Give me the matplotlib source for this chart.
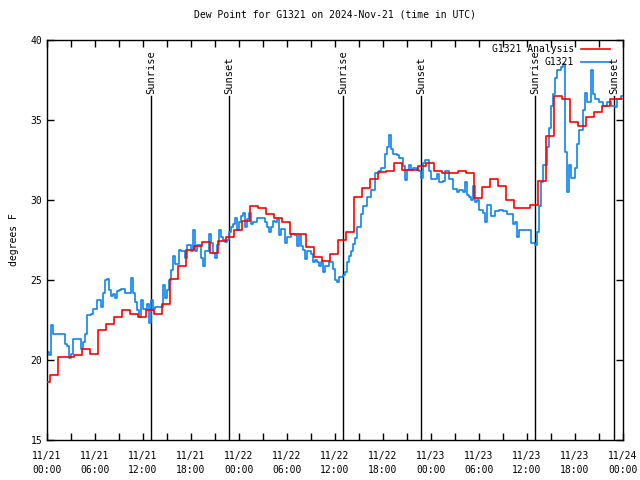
import numpy as np
import matplotlib
matplotlib.use('Agg')
import matplotlib.pyplot as plt

# 데이터 (hours since 2024-11-21 00:00 UTC)
# analysis: hourly values, each valid from about hh-0:36 to hh+0:24
analysis_dew = [18.6, 19.06, 20.2, 20.2, 20.3, 20.67, 20.4, 21.9, 22.25, 22.7,
                23.1, 22.85, 22.67, 23.1, 22.9, 23.5, 25.04, 25.9, 26.9, 27.1,
                27.4, 26.7, 27.45, 27.7, 28.1, 28.7, 29.6, 29.5, 29.1, 28.9,
                28.6, 27.9, 27.9, 27.04, 26.45, 26.2, 26.6, 27.5, 27.98, 30.19,
                30.77, 31.3, 31.77, 31.83, 32.29, 31.9, 31.9, 32.1, 32.33, 31.8,
                31.7, 31.7, 31.8, 31.67, 30.1, 30.83, 31.3, 30.9, 30.0, 29.48,
                29.48, 29.7, 31.19, 34.0, 36.5, 36.3, 34.9, 34.6, 35.2, 35.5,
                35.9, 36.3, 36.3]

# station obs, every 15 minutes
station_dew = [
    20.5, 20.3, 22.2, 21.6,  21.6, 21.6, 21.6, 21.6,  21.6, 21.0, 20.9, 20.1,
    20.4, 21.3, 21.3, 21.3,  21.3, 20.7, 21.1, 21.6,  22.8, 22.8, 22.9, 23.2,
    23.2, 23.75, 23.75, 23.3,  24.2, 25.0, 25.06, 24.4,  24.0, 24.1, 23.9, 24.3,
    24.4, 24.45, 24.45, 24.2,  24.2, 24.2, 25.1, 24.2,  23.6, 23.1, 22.7, 23.75,
    23.2, 23.2, 23.5, 22.3,  23.75, 23.2, 23.3, 23.3,  23.3, 23.3, 24.7, 23.9,
    24.4, 25.0, 25.6, 26.5,  26.0, 26.0, 26.9, 26.8,  26.8, 26.4, 27.2, 27.2,
    26.8, 28.1, 26.8, 27.2,  27.2, 26.4, 25.9, 26.8,  26.8, 27.9, 27.3, 26.7,
    26.4, 27.2, 28.1, 27.7,  27.5, 27.4, 27.5, 28.0,  28.3, 28.5, 28.9, 28.1,
    28.6, 29.0, 29.2, 28.3,  28.8, 29.2, 28.5, 28.6,  28.6, 28.9, 28.9, 28.9,
    28.9, 28.6, 28.3, 28.0,  28.3, 28.7, 28.6, 28.8,  27.8, 28.2, 28.2, 27.3,
    27.7, 27.7, 27.9, 27.9,  27.8, 27.1, 27.8, 27.1,  26.9, 26.3, 26.8, 26.8,
    26.6, 26.15, 26.25, 26.15,  25.9, 26.15, 25.5, 25.9,  25.9, 26.15, 26.15, 25.7,
    25.0, 24.9, 25.2, 25.2,  25.3, 25.5, 26.1, 26.5,  26.8, 27.25, 27.6, 28.3,
    28.3, 29.1, 29.6, 29.6,  30.2, 30.2, 30.6, 30.6,  31.7, 31.7, 31.8, 32.0,
    32.0, 32.9, 33.3, 34.06,  33.2, 32.9, 32.9, 32.8,  32.6, 32.6, 32.1, 31.25,
    31.9, 32.2, 31.9, 32.0,  32.0, 31.9, 31.8, 31.4,  32.3, 32.5, 32.5, 31.8,
    31.3, 31.3, 31.3, 31.6,  31.1, 31.1, 31.2, 31.8,  31.8, 31.3, 31.3, 30.7,
    30.7, 30.5, 30.6, 30.6,  30.5, 31.1, 30.3, 30.2,  30.0, 30.9, 29.9, 30.0,
    29.4, 29.4, 29.2, 28.6,  29.7, 29.7, 29.0, 29.0,  29.3, 29.3, 29.4, 29.4,
    29.3, 29.3, 29.15, 29.15,  29.15, 28.5, 28.6, 27.7,  28.1, 28.1, 28.1, 28.1,
    28.1, 28.1, 27.3, 27.3,  27.2, 28.0, 29.6, 31.1,  32.2, 32.2, 33.3, 34.5,
    35.9, 36.6, 37.6, 38.1,  38.1, 38.3, 38.5, 33.0,  30.5, 32.2, 31.4, 31.4,
    32.0, 33.5, 34.4, 34.4,  35.6, 36.7, 36.1, 36.1,  38.1, 36.6, 36.3, 36.3,
    36.1, 36.1, 35.9, 35.9,  36.1, 36.1, 35.9, 35.9,  35.8, 36.3, 36.3, 36.5,
]

sun_hours = [13.0, 22.75, 37.0, 46.75, 61.0, 70.875]
sun_labels = ['Sunrise', 'Sunset', 'Sunrise', 'Sunset', 'Sunrise', 'Sunset']

tick_hours = list(range(0, 73, 6))
tick_labels = ['11/21\n00:00', '11/21\n06:00', '11/21\n12:00', '11/21\n18:00',
               '11/22\n00:00', '11/22\n06:00', '11/22\n12:00', '11/22\n18:00',
               '11/23\n00:00', '11/23\n06:00', '11/23\n12:00', '11/23\n18:00',
               '11/24\n00:00']

plt.rcParams['font.family'] = ['DejaVu Sans Mono']
plt.rcParams['font.size'] = 7

fig = plt.figure(figsize=(6.4, 4.8), dpi=100)
ax = fig.add_axes([47 / 640, 40 / 480, 576 / 640, 400 / 480])

# step series
t_an = np.concatenate([[0.0], np.arange(1, len(analysis_dew)) - 0.6, [71.9]])
v_an = np.append(analysis_dew, analysis_dew[-1])
t_st = np.append(np.arange(len(station_dew)) * 0.25, 71.9)
v_st = np.append(station_dew, station_dew[-1])

ax.plot(t_st, v_st, drawstyle='steps-post', color='#0f84f0', lw=1.2, zorder=2)
ax.plot(t_an, v_an, drawstyle='steps-post', color='#ff0000', lw=1.2, zorder=3)

# sunrise / sunset markers
for h, lab in zip(sun_hours, sun_labels):
    ax.plot([h, h], [15, 36.5], color='black', lw=1, zorder=1)
    ax.text(h, 36.65, lab, rotation=90, ha='center', va='bottom', fontsize=7.5)

ax.set_xlim(0, 72)
ax.set_ylim(15, 40)
ax.set_xticks(tick_hours)
ax.set_xticklabels(tick_labels, linespacing=1.5)
ax.set_xticks(range(3, 72, 6), minor=True)
ax.set_yticks(range(15, 41, 5))
ax.tick_params(which='both', direction='in', top=True, right=True, length=5, width=1)
ax.tick_params(axis='x', pad=8)
for s in ax.spines.values():
    s.set_linewidth(1)

ax.set_title('Dew Point for G1321 on 2024-Nov-21 (time in UTC)', fontsize=7, pad=16)
ax.set_ylabel('degrees F', labelpad=8)

# legend (right aligned text like gnuplot)
ax.text(0.915, 0.9775, 'G1321 Analysis', transform=ax.transAxes, ha='right', va='center')
ax.plot([0.927, 0.977], [0.9775, 0.9775], transform=ax.transAxes, color='#ff0000', lw=1.2)
ax.text(0.915, 0.945, 'G1321', transform=ax.transAxes, ha='right', va='center')
ax.plot([0.927, 0.977], [0.945, 0.945], transform=ax.transAxes, color='#0f84f0', lw=1.2)

fig.savefig('out.png', dpi=100)
